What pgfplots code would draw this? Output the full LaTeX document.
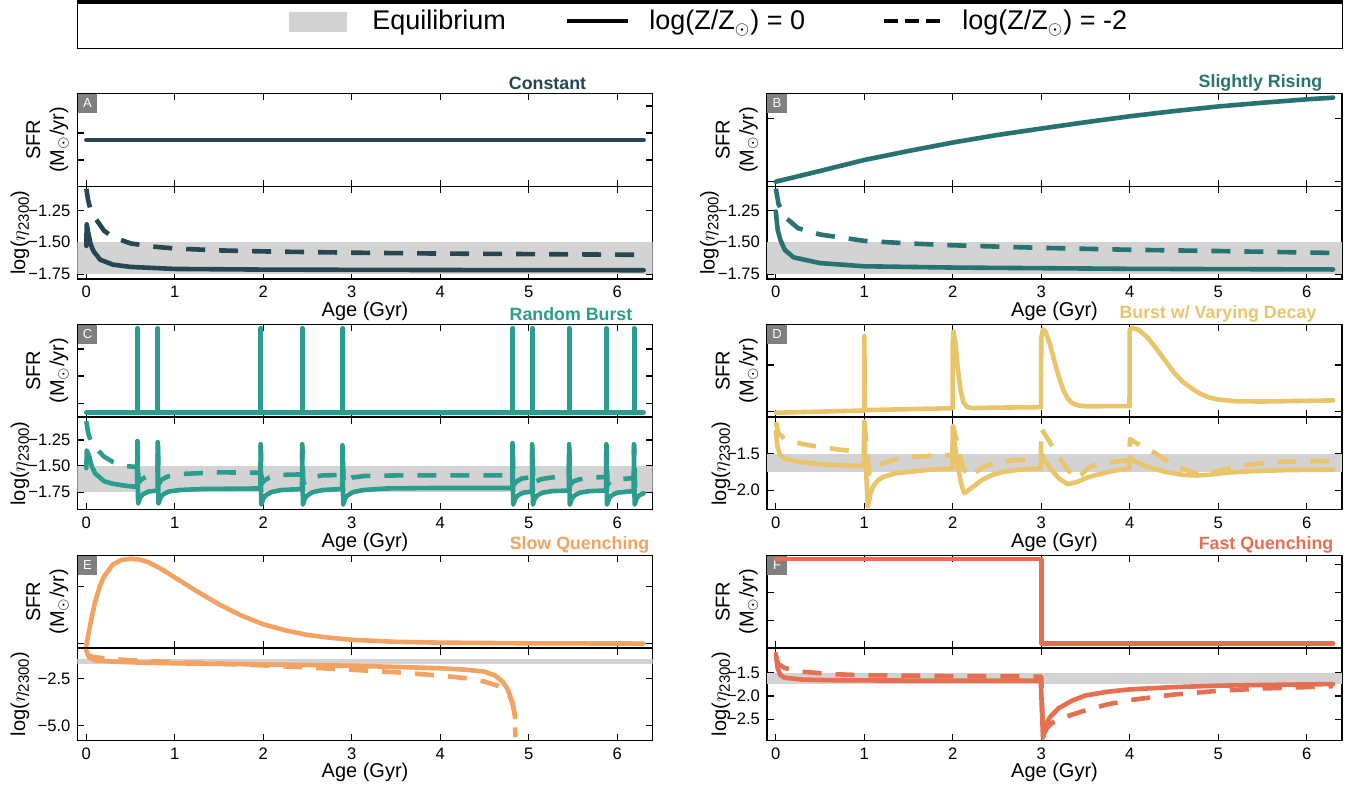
\documentclass[border=0pt]{standalone}
\usepackage{pgfplots}
\pgfplotsset{compat=1.18}
\usepackage{fontspec}
\setmainfont{Liberation Sans}
\definecolor{cA}{HTML}{264653}
\definecolor{cB}{HTML}{287271}
\definecolor{cC}{HTML}{2A9D8F}
\definecolor{cD}{HTML}{E9C46A}
\definecolor{cE}{HTML}{F4A261}
\definecolor{cF}{HTML}{E76F51}
\definecolor{eqgray}{HTML}{D3D3D3}
\definecolor{labgray}{HTML}{808080}
\pgfplotsset{
 panel/.style={scale only axis, width=287.5pt, height=46.375pt, xmin=-0.1, xmax=6.4,
   xtick={0,1,2,3,4,5,6}, tick align=inside, tick pos=both, major tick length=3.3pt,
   axis line style={line width=0.6pt}, every tick/.append style={line width=0.6pt, black},
   tick label style={font=\fontsize{8.3}{9.6}\selectfont},
   label style={font=\fontsize{10}{10.3}\selectfont}},
 upper/.style={panel, ymin=0, ymax=1, xticklabel=\empty, yticklabel=\empty,
   ylabel={SFR\\(M$_\odot$/yr)},
   every axis y label/.style={at={(axis description cs:-0.0522,0.5)}, rotate=90, anchor=center, align=center}},
 lower/.style={panel, xticklabels={0,1,2,3,4,5,6}, xlabel={Age (Gyr)},
   every axis x label/.style={at={(axis description cs:0.5,-0.345)}, anchor=center},
   ylabel={log($\eta$\raisebox{-0.35ex}{\fontsize{7.5}{8}\selectfont 2300})},
   every axis y label/.style={at={(axis description cs:#1,0.5)}, rotate=90, anchor=center}},
 sol/.style={line width=2.3pt, line cap=round, line join=round},
 das/.style={line width=2.3pt, dash pattern=on 9.5pt off 7pt, line join=round},
 band/.style={draw=none, fill=eqgray},
}
\tikzset{lab/.style={anchor=north west, fill=labgray, text=white, minimum size=9.6pt, inner sep=0pt, font=\fontsize{6.5}{6.5}\selectfont}}
\begin{document}
\begin{tikzpicture}
\useasboundingbox (0,0) rectangle (677.5pt,395pt);
% legend
\draw[line width=0.6pt] (38.75pt,370.85pt) rectangle (671.35pt,394pt);
\draw[line width=2pt] (38.45pt,394pt) -- (671.65pt,394pt);
\fill[eqgray] (144.5pt,379pt) rectangle (173.5pt,389pt);
\node[anchor=base west, font=\fontsize{13.5}{16}\selectfont, inner sep=0pt] at (186pt,380pt) {Equilibrium};
\draw[line width=2.3pt] (283.5pt,384.5pt) -- (314pt,384.5pt);
\node[anchor=base west, font=\fontsize{13.5}{16}\selectfont, inner sep=0pt] at (324.5pt,380pt) {log(Z/Z$_\odot$) = 0};
\draw[line width=2.3pt, dash pattern=on 7pt off 3.5pt] (442pt,384.5pt) -- (470pt,384.5pt);
\node[anchor=base west, font=\fontsize{13.5}{16}\selectfont, inner sep=0pt] at (481pt,380pt) {log(Z/Z$_\odot$) = -2};

% ---------------- Panel A ----------------
\begin{axis}[upper, at={(38.75pt,301.875pt)}, anchor=south west, ytick={0.283,0.574,0.865}]
\node[lab] at (rel axis cs:0,1) {A};
\addplot[sol, cA] coordinates {(0,0.499) (6.3,0.499)};
\end{axis}
\begin{axis}[lower=-0.1, at={(38.75pt,255.5pt)}, anchor=south west, ymin=-1.79, ymax=-1.06,
  ytick={-1.75,-1.5,-1.25}, yticklabels={−1.75,−1.50,−1.25}]
\addplot[band] coordinates {(-0.1,-1.75) (6.4,-1.75) (6.4,-1.5) (-0.1,-1.5)};
\addplot[das, cA] coordinates {(0,-1.08) (0.02,-1.17) (0.05,-1.25) (0.1,-1.31) (0.2,-1.41) (0.3,-1.46) (0.5,-1.51) (0.75,-1.535) (1,-1.55) (1.5,-1.565) (2,-1.573) (3,-1.583) (4,-1.59) (5,-1.594) (6.3,-1.60)};
\addplot[sol, cA] coordinates {(0,-1.53) (0.004,-1.36) (0.02,-1.42) (0.05,-1.52) (0.083,-1.573) (0.156,-1.638) (0.3,-1.677) (0.5,-1.695) (1,-1.711) (2,-1.716) (3,-1.718) (4.5,-1.72) (6.3,-1.721)};
\end{axis}

% ---------------- Panel B ----------------
\begin{axis}[upper, at={(383.5pt,301.875pt)}, anchor=south west, ytick={0.049,0.732}]
\node[lab] at (rel axis cs:0,1) {B};
\addplot[sol, cB] coordinates {(0,0.049) (0.5,0.165) (1,0.283) (1.5,0.38) (2,0.471) (2.5,0.552) (3,0.622) (3.5,0.69) (4,0.754) (4.5,0.81) (5,0.86) (5.5,0.9) (6,0.937) (6.3,0.955)};
\end{axis}
\begin{axis}[lower=-0.1, at={(383.5pt,255.5pt)}, anchor=south west, ymin=-1.79, ymax=-1.06,
  ytick={-1.75,-1.5,-1.25}, yticklabels={−1.75,−1.50,−1.25}]
\addplot[band] coordinates {(-0.1,-1.75) (6.4,-1.75) (6.4,-1.5) (-0.1,-1.5)};
\addplot[das, cB] coordinates {(0,-1.08) (0.03,-1.2) (0.1,-1.3) (0.25,-1.39) (0.5,-1.44) (1,-1.49) (1.5,-1.51) (2,-1.525) (3,-1.545) (4,-1.56) (5,-1.57) (6.3,-1.585)};
\addplot[sol, cB] coordinates {(0,-1.26) (0.02,-1.4) (0.05,-1.48) (0.1,-1.56) (0.2,-1.62) (0.5,-1.665) (1,-1.69) (2,-1.70) (4,-1.71) (6.3,-1.715)};
\end{axis}

% ---------------- Panel C ----------------
\begin{axis}[upper, at={(38.75pt,186.45pt)}, anchor=south west, ytick={0.147,0.442,0.734}]
\node[lab] at (rel axis cs:0,1) {C};
\addplot[sol, cC] coordinates {(0,0.047)
 (0.577,0.047) (0.577,0.957) (0.582,0.957) (0.582,0.047)
 (0.807,0.047) (0.807,0.957) (0.812,0.957) (0.812,0.047)
 (1.97,0.047) (1.97,0.957) (1.975,0.957) (1.975,0.047)
 (2.44,0.047) (2.44,0.957) (2.445,0.957) (2.445,0.047)
 (2.895,0.047) (2.895,0.957) (2.9,0.957) (2.9,0.047)
 (4.817,0.047) (4.817,0.957) (4.822,0.957) (4.822,0.047)
 (5.04,0.047) (5.04,0.957) (5.045,0.957) (5.045,0.047)
 (5.457,0.047) (5.457,0.957) (5.462,0.957) (5.462,0.047)
 (5.878,0.047) (5.878,0.957) (5.883,0.957) (5.883,0.047)
 (6.19,0.047) (6.19,0.957) (6.195,0.957) (6.195,0.047)
 (6.3,0.047)};
\end{axis}
\begin{axis}[lower=-0.1, at={(38.75pt,140.075pt)}, anchor=south west, ymin=-1.92, ymax=-1.03,
  ytick={-1.75,-1.5,-1.25}, yticklabels={−1.75,−1.50,−1.25}]
\addplot[band] coordinates {(-0.1,-1.75) (6.4,-1.75) (6.4,-1.5) (-0.1,-1.5)};
\addplot[das, cC] coordinates {(0,-1.07) (0.02,-1.18) (0.05,-1.26) (0.1,-1.32) (0.2,-1.41) (0.3,-1.46) (0.45,-1.50) (0.575,-1.51)
 (0.579,-1.27) (0.59,-1.66) (0.62,-1.63) (0.68,-1.60) (0.805,-1.585)
 (0.809,-1.28) (0.82,-1.67) (0.85,-1.63) (0.92,-1.60) (1.1,-1.575) (1.5,-1.56) (1.968,-1.565)
 (1.972,-1.31) (1.983,-1.67) (2.01,-1.64) (2.07,-1.61) (2.2,-1.585) (2.438,-1.58)
 (2.442,-1.32) (2.453,-1.67) (2.48,-1.64) (2.54,-1.61) (2.67,-1.59) (2.893,-1.585)
 (2.897,-1.32) (2.908,-1.67) (2.935,-1.64) (3.0,-1.61) (3.15,-1.595) (3.5,-1.59) (4.815,-1.59)
 (4.819,-1.29) (4.83,-1.68) (4.86,-1.65) (4.92,-1.62) (5.038,-1.605)
 (5.042,-1.30) (5.053,-1.68) (5.08,-1.65) (5.14,-1.625) (5.3,-1.605) (5.455,-1.60)
 (5.459,-1.30) (5.47,-1.68) (5.5,-1.65) (5.56,-1.63) (5.7,-1.61) (5.876,-1.605)
 (5.88,-1.30) (5.891,-1.68) (5.92,-1.65) (5.98,-1.63) (6.188,-1.615)
 (6.192,-1.30) (6.203,-1.69) (6.23,-1.66) (6.3,-1.64)};
\addplot[sol, cC] coordinates {(0,-1.52) (0.005,-1.35) (0.03,-1.40) (0.06,-1.50) (0.1,-1.57) (0.2,-1.645) (0.3,-1.67) (0.45,-1.69) (0.575,-1.70)
 (0.577,-1.26) (0.585,-1.86) (0.61,-1.80) (0.64,-1.77) (0.7,-1.745) (0.805,-1.735)
 (0.807,-1.27) (0.815,-1.86) (0.84,-1.80) (0.87,-1.77) (0.93,-1.745) (1.05,-1.73) (1.3,-1.72) (1.968,-1.715)
 (1.97,-1.29) (1.978,-1.87) (2.0,-1.81) (2.03,-1.78) (2.09,-1.75) (2.2,-1.73) (2.438,-1.72)
 (2.44,-1.29) (2.448,-1.87) (2.47,-1.81) (2.5,-1.78) (2.56,-1.75) (2.67,-1.73) (2.893,-1.72)
 (2.895,-1.30) (2.903,-1.87) (2.925,-1.81) (2.955,-1.78) (3.015,-1.75) (3.13,-1.73) (3.4,-1.715) (4.0,-1.71) (4.815,-1.71)
 (4.817,-1.28) (4.825,-1.87) (4.85,-1.81) (4.88,-1.78) (4.94,-1.755) (5.038,-1.745)
 (5.04,-1.29) (5.048,-1.87) (5.07,-1.81) (5.1,-1.78) (5.16,-1.755) (5.27,-1.74) (5.455,-1.735)
 (5.457,-1.29) (5.465,-1.87) (5.49,-1.81) (5.52,-1.78) (5.58,-1.755) (5.69,-1.74) (5.876,-1.735)
 (5.878,-1.29) (5.886,-1.87) (5.91,-1.81) (5.94,-1.78) (6.0,-1.755) (6.188,-1.74)
 (6.19,-1.29) (6.198,-1.87) (6.22,-1.81) (6.25,-1.78) (6.3,-1.76)};
\end{axis}

% ---------------- Panel D ----------------
\begin{axis}[upper, at={(383.5pt,186.45pt)}, anchor=south west, ytick={0.058,0.561}]
\node[lab] at (rel axis cs:0,1) {D};
\addplot[sol, cD] coordinates {(0,0.047) (0.998,0.071) (1.0,0.874) (1.006,0.075) (1.5,0.085) (1.998,0.096)
 (2.0,0.80) (2.008,0.921) (2.03,0.80) (2.06,0.50) (2.09,0.28) (2.12,0.16) (2.16,0.11) (2.22,0.097) (2.6,0.103) (2.998,0.107)
 (3.0,0.85) (3.02,0.946) (3.05,0.92) (3.1,0.78) (3.15,0.60) (3.2,0.43) (3.25,0.29) (3.3,0.2) (3.35,0.15) (3.42,0.125) (3.5,0.117) (3.998,0.118)
 (4.0,0.94) (4.03,0.964) (4.1,0.94) (4.2,0.86) (4.3,0.74) (4.4,0.61) (4.5,0.48) (4.6,0.38) (4.7,0.31) (4.8,0.25) (4.9,0.21) (5.0,0.19) (5.2,0.17) (5.5,0.168) (6.0,0.175) (6.3,0.18)};
\end{axis}
\begin{axis}[lower=-0.08, at={(383.5pt,140.075pt)}, anchor=south west, ymin=-2.27, ymax=-1.0,
  ytick={-2,-1.5}, yticklabels={−2.0,−1.5}]
\addplot[band] coordinates {(-0.1,-1.75) (6.4,-1.75) (6.4,-1.5) (-0.1,-1.5)};
\addplot[das, cD] coordinates {(0,-1.07) (0.03,-1.22) (0.1,-1.3) (0.3,-1.37) (0.5,-1.41) (0.75,-1.45) (0.995,-1.48)
 (1.003,-1.06) (1.03,-1.5) (1.06,-1.78) (1.1,-1.72) (1.2,-1.64) (1.35,-1.58) (1.5,-1.55) (1.75,-1.53) (1.995,-1.52)
 (2.003,-1.12) (2.04,-1.3) (2.08,-1.52) (2.12,-1.7) (2.17,-1.82) (2.25,-1.76) (2.35,-1.68) (2.5,-1.62) (2.7,-1.59) (2.995,-1.57)
 (3.003,-1.16) (3.05,-1.25) (3.1,-1.35) (3.2,-1.55) (3.3,-1.72) (3.4,-1.85) (3.55,-1.68) (3.75,-1.62) (3.995,-1.59)
 (4.003,-1.3) (4.08,-1.36) (4.27,-1.48) (4.52,-1.68) (4.76,-1.77) (4.9,-1.77) (5.0,-1.74) (5.25,-1.67) (5.5,-1.63) (5.73,-1.61) (6.3,-1.60)};
\addplot[sol, cD] coordinates {(0,-1.2) (0.02,-1.42) (0.05,-1.52) (0.1,-1.57) (0.25,-1.61) (0.5,-1.645) (0.75,-1.66) (0.995,-1.67)
 (1.0,-1.06) (1.01,-1.5) (1.04,-2.22) (1.07,-2.05) (1.1,-1.95) (1.15,-1.87) (1.21,-1.82) (1.35,-1.77) (1.5,-1.75) (1.75,-1.72) (1.995,-1.705)
 (2.0,-1.13) (2.02,-1.35) (2.06,-1.7) (2.1,-1.93) (2.13,-2.045) (2.2,-1.98) (2.33,-1.86) (2.45,-1.79) (2.57,-1.75) (2.75,-1.72) (2.995,-1.705)
 (3.0,-1.5) (3.03,-1.58) (3.1,-1.7) (3.2,-1.84) (3.3,-1.92) (3.4,-1.89) (3.54,-1.82) (3.79,-1.74) (3.995,-1.705)
 (4.0,-1.55) (4.05,-1.6) (4.2,-1.68) (4.4,-1.75) (4.6,-1.79) (4.75,-1.80) (4.9,-1.79) (5.1,-1.76) (5.4,-1.74) (5.8,-1.725) (6.3,-1.72)};
\end{axis}

% ---------------- Panel E ----------------
\begin{axis}[upper, at={(38.75pt,71.025pt)}, anchor=south west, ytick={0.05,0.661}]
\node[lab] at (rel axis cs:0,1) {E};
\addplot[sol, cE] coordinates {(0,0.03) (0.03,0.18) (0.06,0.33) (0.1,0.5) (0.15,0.66) (0.2,0.77) (0.3,0.9) (0.4,0.95) (0.5,0.962) (0.6,0.953) (0.7,0.925) (0.85,0.85) (1.0,0.76) (1.25,0.61) (1.5,0.47) (1.75,0.35) (2.0,0.255) (2.25,0.19) (2.5,0.14) (2.75,0.11) (3.0,0.088) (3.5,0.066) (4.0,0.057) (5.0,0.05) (6.3,0.047)};
\end{axis}
\begin{axis}[lower=-0.1, at={(38.75pt,24.65pt)}, anchor=south west, ymin=-5.79, ymax=-0.9,
  ytick={-5,-2.5}, yticklabels={−5.0,−2.5}]
\addplot[band] coordinates {(-0.1,-1.75) (6.4,-1.75) (6.4,-1.5) (-0.1,-1.5)};
\addplot[das, cE] coordinates {(0,-1.2) (0.05,-1.35) (0.2,-1.45) (0.5,-1.55) (1,-1.65) (1.5,-1.73) (2,-1.82) (2.5,-1.93) (3,-2.05) (3.5,-2.18) (4,-2.36) (4.3,-2.5) (4.5,-2.67) (4.65,-2.9) (4.72,-3.1) (4.78,-3.4) (4.82,-3.8) (4.84,-4.3) (4.85,-5.6)};
\addplot[sol, cE] coordinates {(0,-1.05) (0.03,-1.4) (0.1,-1.55) (0.3,-1.62) (0.6,-1.67) (1,-1.71) (1.5,-1.74) (2,-1.77) (2.5,-1.8) (3,-1.84) (3.5,-1.9) (4,-1.97) (4.3,-2.05) (4.5,-2.15) (4.62,-2.35) (4.7,-2.65) (4.76,-3.05) (4.8,-3.55) (4.83,-4.1) (4.845,-4.55)};
\end{axis}

% ---------------- Panel F ----------------
\begin{axis}[upper, at={(383.5pt,71.025pt)}, anchor=south west, ytick={0.295,0.6,0.9}]
\node[lab] at (rel axis cs:0,1) {F};
\addplot[sol, cF] coordinates {(0,0.959) (3,0.959) (3,0.05) (6.3,0.05)};
\end{axis}
\begin{axis}[lower=-0.08, at={(383.5pt,24.65pt)}, anchor=south west, ymin=-2.96, ymax=-0.97,
  ytick={-2.5,-2,-1.5}, yticklabels={−2.5,−2.0,−1.5}]
\addplot[band] coordinates {(-0.1,-1.75) (6.4,-1.75) (6.4,-1.5) (-0.1,-1.5)};
\addplot[das, cF] coordinates {(0,-1.17) (0.03,-1.32) (0.1,-1.4) (0.3,-1.48) (0.6,-1.53) (1,-1.555) (2,-1.575) (2.995,-1.585) (3.0,-1.6) (3.02,-2.85) (3.06,-2.7) (3.12,-2.58) (3.2,-2.5) (3.35,-2.4) (3.5,-2.31) (3.75,-2.18) (4.0,-2.09) (4.5,-1.97) (5.0,-1.89) (5.5,-1.84) (6.0,-1.81) (6.3,-1.79)};
\addplot[sol, cF] coordinates {(0,-1.1) (0.02,-1.4) (0.05,-1.55) (0.1,-1.61) (0.3,-1.65) (0.7,-1.665) (1.5,-1.67) (2.995,-1.675) (3.02,-2.89) (3.05,-2.62) (3.1,-2.45) (3.2,-2.26) (3.35,-2.1) (3.5,-1.99) (3.75,-1.91) (4.0,-1.86) (4.5,-1.81) (5.0,-1.78) (5.5,-1.765) (6.3,-1.745)};
\end{axis}

% titles
\node[font=\bfseries\fontsize{8.9}{10}\selectfont, text=cA] at (273.75pt,353.35pt) {Constant};
\node[font=\bfseries\fontsize{8.9}{10}\selectfont, text=cB] at (630.25pt,353.35pt) {Slightly Rising};
\node[font=\bfseries\fontsize{8.9}{10}\selectfont, text=cC] at (285.5pt,238pt) {Random Burst};
\node[font=\bfseries\fontsize{8.9}{10}\selectfont, text=cD] at (609pt,238pt) {Burst w/ Varying Decay};
\node[font=\bfseries\fontsize{8.9}{10}\selectfont, text=cE] at (289.75pt,122.5pt) {Slow Quenching};
\node[font=\bfseries\fontsize{8.9}{10}\selectfont, text=cF] at (633pt,122.5pt) {Fast Quenching};
\end{tikzpicture}
\end{document}
